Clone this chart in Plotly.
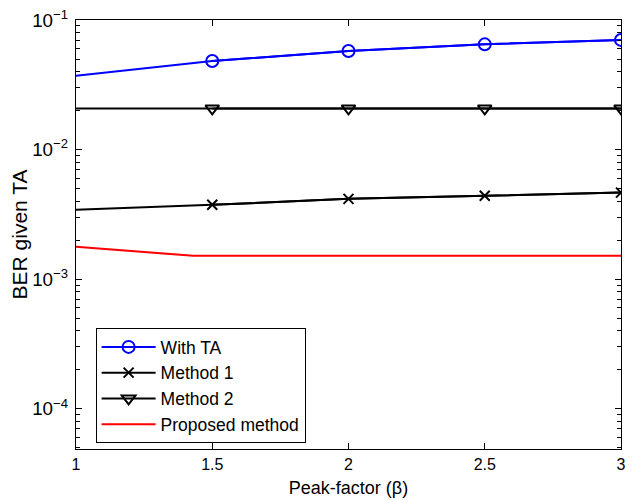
import plotly.graph_objects as go

# Data
peak_factor = [1.0, 1.5, 2.0, 2.5, 3.0]
with_ta = [0.0372, 0.0483, 0.0577, 0.0649, 0.0702]
method1 = [0.00343, 0.00375, 0.00417, 0.00440, 0.00466]
method2 = [0.0208, 0.0208, 0.0208, 0.0208, 0.0208]
proposed_x = [1.0, 1.43, 1.5, 2.0, 2.5, 3.0]
proposed = [0.00178, 0.001515, 0.001515, 0.001515, 0.001515, 0.001515]

FONT = "Liberation Sans, Arial, sans-serif"

fig = go.Figure()

def add_series(x, y, name, color, symbol, size):
    # full line (no legend)
    fig.add_trace(go.Scatter(x=x, y=y, mode="lines", line=dict(color=color, width=2),
                             showlegend=False, legendgroup=name, hoverinfo="skip"))
    # markers at x >= 1.5 (the reference shows no marker at x=1)
    fig.add_trace(go.Scatter(x=x[1:], y=y[1:], mode="lines+markers", name=name,
                             legendgroup=name,
                             line=dict(color=color, width=2),
                             marker=dict(symbol=symbol, size=size, color=color,
                                         line=dict(color=color, width=2))))

add_series(peak_factor, with_ta, "With TA", "#0000ff", "circle-open", 12)
add_series(peak_factor, method1, "Method 1", "#000000", "x-thin-open", 10)
add_series(peak_factor, method2, "Method 2", "#000000", "triangle-down-open", 12)
fig.add_trace(go.Scatter(x=proposed_x, y=proposed, mode="lines", name="Proposed method",
                         line=dict(color="#ff0000", width=2)))

# page body has an 8px margin, so the figure is sized/offset to compensate
fig.update_layout(
    width=636, height=492,
    margin=dict(l=68, r=23, t=12, b=51, autoexpand=False),
    paper_bgcolor="white", plot_bgcolor="white",
    font=dict(family=FONT, size=16, color="black"),
    legend=dict(x=0.036, y=0.282, xanchor="left", yanchor="top",
                bgcolor="white", bordercolor="black", borderwidth=1,
                font=dict(size=17.5), tracegroupgap=0, itemwidth=54),
    xaxis=dict(range=[1, 3], tickvals=[1, 1.5, 2, 2.5, 3],
               ticktext=["1", "1.5", "2", "2.5", "3"], automargin=False,
               ticks="inside", ticklen=6, tickcolor="black", mirror="ticks",
               ticklabelstandoff=1, ticklabeloverflow="allow",
               showline=True, linecolor="black", linewidth=1, showgrid=False,
               zeroline=False,
               title=dict(text="Peak-factor (β)", font=dict(size=18), standoff=9)),
    yaxis=dict(type="log", range=[-4.31, -1], dtick=1, exponentformat="power",
               automargin=False, ticklabelstandoff=4, ticklabeloverflow="allow",
               tickfont=dict(size=15),
               ticks="inside", ticklen=6, tickcolor="black", mirror="ticks",
               showline=True, linecolor="black", linewidth=1, showgrid=False,
               zeroline=False,
               minor=dict(dtick="D1", ticks="inside", ticklen=4, tickcolor="black",
                          showgrid=False),
               title=dict(text="BER given TA", font=dict(size=21), standoff=3)),
)

fig.write_html("out.html")
